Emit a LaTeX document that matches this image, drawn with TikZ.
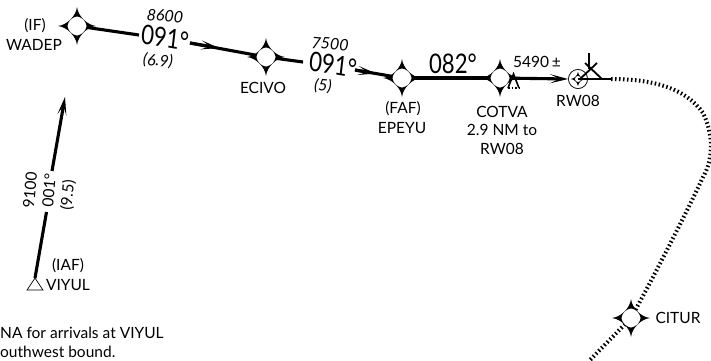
\documentclass[tikz,border=0pt]{standalone}
\usepackage{fontspec}
\setmainfont{Lato}
\usepackage{tikz}
\usetikzlibrary{positioning,arrows.meta}
\tikzset{
  fixpt/.style={circle,inner sep=0pt,minimum size=17pt},
  track/.style={line width=3.1pt},
  trackarrow/.style={line width=3.1pt,-{Stealth[length=18pt,width=9pt,inset=9pt]}},
  transition/.style={line width=4pt,dash pattern=on 1.5pt off 2.5pt},
  lbl/.style={inner sep=0pt,font=\fontsize{15.5}{18}\selectfont},
  alt/.style={inner sep=0pt,font=\fontsize{16}{18}\selectfont\itshape},
  crs/.style={inner sep=0pt,xscale=0.82,font=\fontsize{27}{29}\selectfont},
}
\newcommand{\fixstar}[1]{%
  \fill (#1)+(0,-19) .. controls +(1,9) and +(-9,-1) .. +(19,0)
    .. controls +(-9,1) and +(1,-9) .. +(0,19)
    .. controls +(-1,-9) and +(9,1) .. +(-19,0)
    .. controls +(9,-1) and +(-1,9) .. cycle;
  \fill[white] (#1)+(0,-9.5) .. controls +(5,0.8) and +(-0.8,-5) .. +(9.5,0)
    .. controls +(-0.8,5) and +(5,-0.8) .. +(0,9.5)
    .. controls +(-5,-0.8) and +(0.8,5) .. +(-9.5,0)
    .. controls +(0.8,-5) and +(-5,0.8) .. cycle;
}
\begin{document}
\begin{tikzpicture}[x=1pt,y=-1pt]
\useasboundingbox (0,0) rectangle (711,360);
% Fixes
\node[fixpt] (wadep) at (77,26) {};
\node[fixpt] (ecivo) at (266,57) {};
\node[fixpt] (epeyu) at (402,78) {};
\node[fixpt] (cotva) at (500,78) {};
\node[fixpt] (citur) at (631,318) {};
\node[circle,draw,line width=0.7pt,inner sep=0pt,minimum size=19pt] (rw) at (578,79) {};
\coordinate (viyul) at (35,278);
\coordinate (gapa) at (139,35);
\coordinate (gapb) at (190,43);
\coordinate (gapc) at (303,62);
\coordinate (gapd) at (355,70);
\coordinate (gape) at (46.5,212);
\coordinate (gapf) at (52,171);
\coordinate (tipa) at (65,97);
\coordinate (ma) at (219,48);
\coordinate (mb) at (376,73.5);
\coordinate (mc) at (611,79);
% Route
\draw[track] (wadep) -- (gapa);
\draw[track] (gapb) -- (ecivo);
\draw[trackarrow] (gapb) -- (ma);
\draw[track] (ecivo) -- (gapc);
\draw[track] (gapd) -- (epeyu);
\draw[trackarrow] (gapd) -- (mb);
\draw[track,line width=3.6pt] (epeyu) -- (cotva);
\draw[trackarrow] (cotva) -- (rw.west);
\draw[track] (viyul) -- (gape);
\draw[trackarrow] (gapf) -- (tipa);
\draw[transition] (mc) .. controls (650,79) and (685,87) .. (703,113)
  .. controls (714,135) and (713,160) .. (703,177)
  .. controls (695,195) and (660,265) .. (citur) -- (590,360);
% Symbols
\fixstar{wadep}
\fixstar{ecivo}
\fixstar{epeyu}
\fixstar{cotva}
\fixstar{citur}
\draw[line width=0.7pt] (viyul) -- (27,290) -- (43,290) -- cycle;
\draw[line width=0.6pt,fill=white] (rw) circle (9.5);
\fill (rw)+(0,-7) .. controls +(1,4) and +(-4,-1) .. +(7,0)
  .. controls +(-4,1) and +(1,-4) .. +(0,7)
  .. controls +(-1,-4) and +(4,1) .. +(-7,0)
  .. controls +(4,-1) and +(-1,4) .. cycle;
\fill[white] (rw) circle (3);
\draw[line width=1.8pt] (rw.center) -- (mc);
\draw[line width=1.8pt] (589,53) -- (589,69);
\draw[line width=1.8pt] (580,79) -- (597,63);
\draw[line width=1.8pt] (585,63) -- (602,79);
% VDP mark
\draw[line width=1.6pt] (508,88) -- (513.5,74) -- (519,88);
\draw[line width=1.2pt,dash pattern=on 1.5pt off 2pt] (508,88) -- (519,88);
% Labels
\node[alt,rotate=-5] (alta) at (165,16) {8600};
\node[crs,rotate=-8] (crsa) at (165,38) {091°};
\node[alt,rotate=-5] (dista) at (158,61) {(6.9)};
\node[alt,rotate=-5] (altb) at (330,44) {7500};
\node[crs,rotate=-8] (crsb) at (333,65) {091°};
\node[alt,rotate=-5] (distb) at (323,86) {(5)};
\node[crs] (crsc) at (453,64) {082°};
\node[lbl] (altc) at (537,62) {5490\,±};
\node[lbl] (nif) at (35,26) {(IF)};
\node[lbl] (nwadep) at (34,45) {WADEP};
\node[lbl] (necivo) at (263,88) {ECIVO};
\node[lbl] (nfaf) at (403,109) {(FAF)};
\node[lbl] (nepeyu) at (402,128) {EPEYU};
\node[lbl] (ncotva) at (502,112) {COTVA};
\node[lbl] (ndist) at (502,130) {2.9 NM to};
\node[lbl] (nrwb) at (502,149) {RW08};
\node[lbl] (nrw) at (578,101) {RW08};
\node[lbl] (niaf) at (68,266) {(IAF)};
\node[lbl] (nviyul) at (68,285) {VIYUL};
\node[lbl] (ncitur) at (678,318) {CITUR};
\node[lbl,rotate=85] (altd) at (30,190) {9100};
\node[lbl,rotate=85] (crsd) at (49,190) {001°};
\node[lbl,rotate=85] (distd) at (68,195) {(9.5)};
\node[lbl,anchor=west] (notea) at (0,333) {NA for arrivals at VIYUL};
\node[lbl,anchor=west] (noteb) at (0,352) {outhwest bound.};
\end{tikzpicture}
\end{document}
